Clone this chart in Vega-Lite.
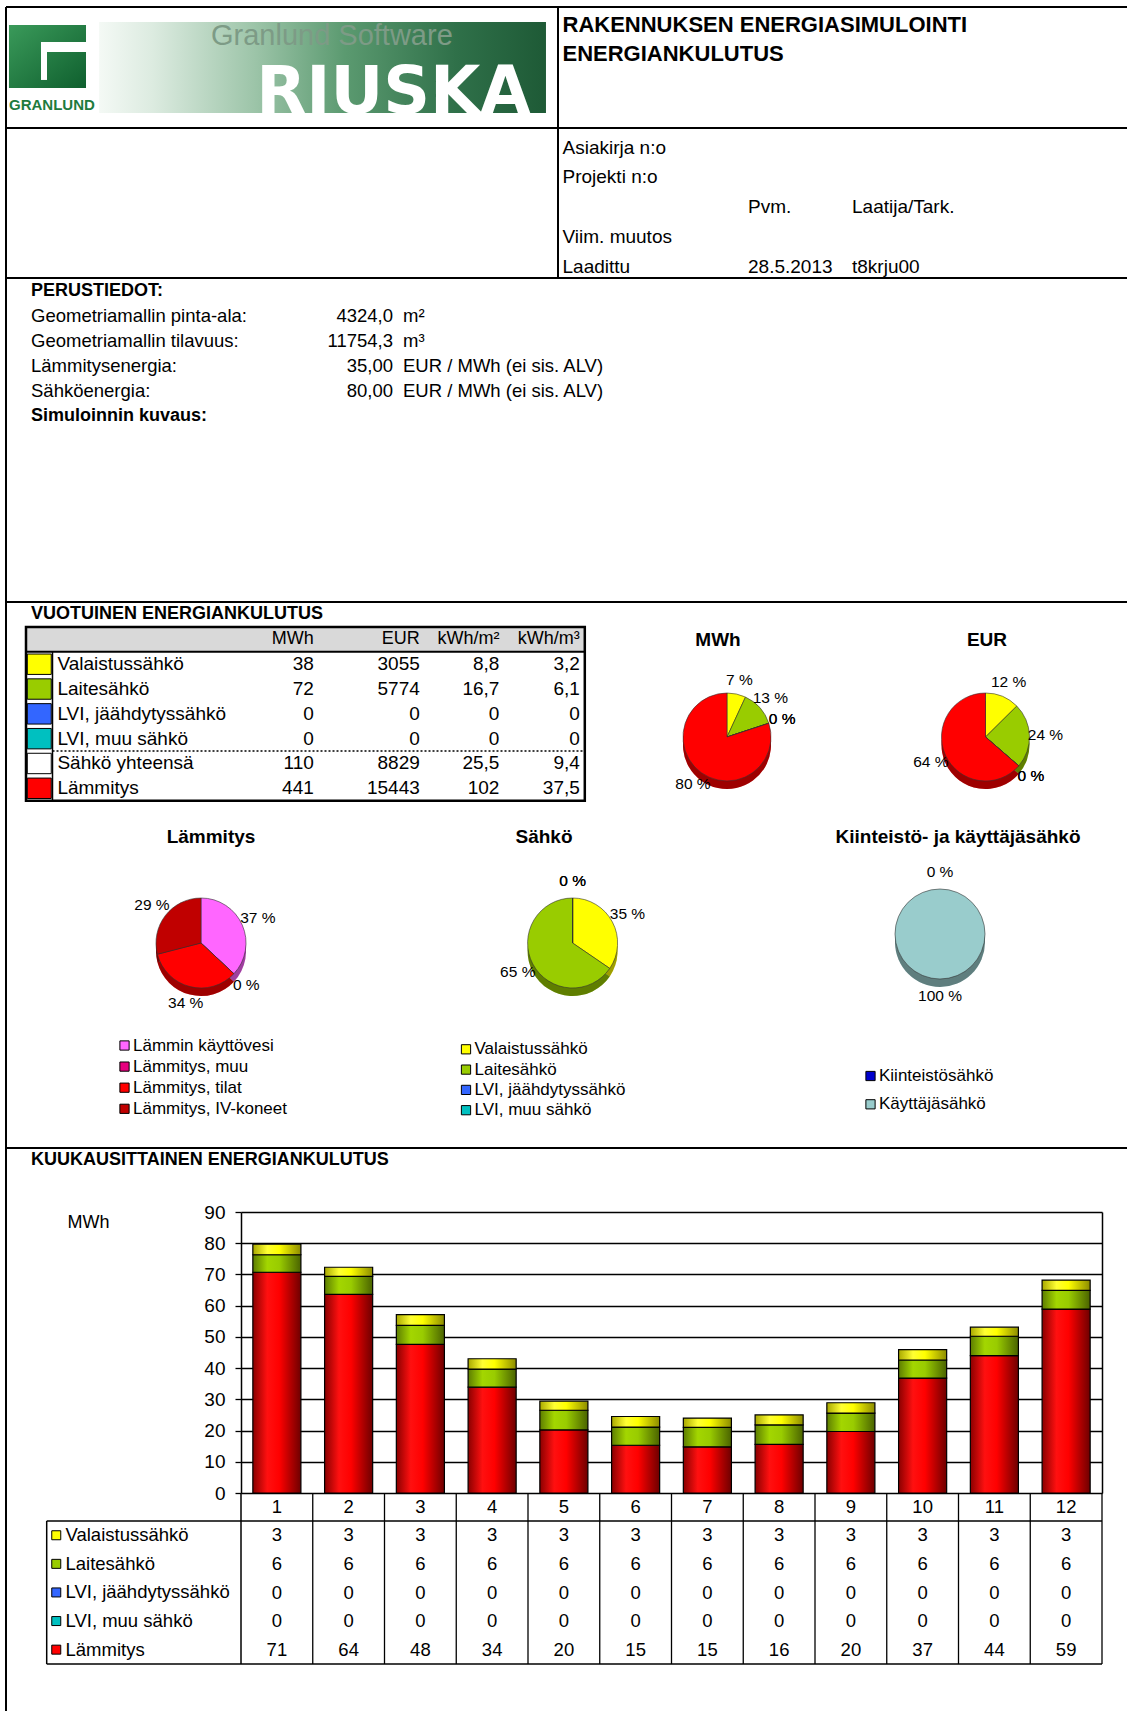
{
 "$schema": "https://vega.github.io/schema/vega-lite/v6.json",
 "width": 1121,
 "height": 1704,
 "padding": {"left": 6, "top": 7, "right": 0, "bottom": 0},
 "autosize": {"type": "none"},
 "background": "#ffffff",
 "config": {
  "view": {"stroke": null},
  "font": "Liberation Sans",
  "text": {"font": "Liberation Sans", "color": "#000000"},
  "axis": {"labelFont": "Liberation Sans", "titleFont": "Liberation Sans"},
  "legend": {"labelFont": "Liberation Sans", "titleFont": "Liberation Sans"},
  "locale": {"number": {"decimal": ",", "thousands": " ", "grouping": [3], "currency": ["", " €"], "percent": " %"}}
 },
 "datasets": {
  "monthly": [
   {"m":1,"s":"Valaistussähkö","o":1,"v":3.4},{"m":1,"s":"Laitesähkö","o":2,"v":5.6},{"m":1,"s":"LVI, jäähdytyssähkö","o":3,"v":0},{"m":1,"s":"LVI, muu sähkö","o":4,"v":0},{"m":1,"s":"Lämmitys","o":5,"v":70.7},
   {"m":2,"s":"Valaistussähkö","o":1,"v":2.9},{"m":2,"s":"Laitesähkö","o":2,"v":5.8},{"m":2,"s":"LVI, jäähdytyssähkö","o":3,"v":0},{"m":2,"s":"LVI, muu sähkö","o":4,"v":0},{"m":2,"s":"Lämmitys","o":5,"v":63.6},
   {"m":3,"s":"Valaistussähkö","o":1,"v":3.4},{"m":3,"s":"Laitesähkö","o":2,"v":6.1},{"m":3,"s":"LVI, jäähdytyssähkö","o":3,"v":0},{"m":3,"s":"LVI, muu sähkö","o":4,"v":0},{"m":3,"s":"Lämmitys","o":5,"v":47.6},
   {"m":4,"s":"Valaistussähkö","o":1,"v":3.3},{"m":4,"s":"Laitesähkö","o":2,"v":5.8},{"m":4,"s":"LVI, jäähdytyssähkö","o":3,"v":0},{"m":4,"s":"LVI, muu sähkö","o":4,"v":0},{"m":4,"s":"Lämmitys","o":5,"v":33.9},
   {"m":5,"s":"Valaistussähkö","o":1,"v":2.9},{"m":5,"s":"Laitesähkö","o":2,"v":6.3},{"m":5,"s":"LVI, jäähdytyssähkö","o":3,"v":0},{"m":5,"s":"LVI, muu sähkö","o":4,"v":0},{"m":5,"s":"Lämmitys","o":5,"v":20.2},
   {"m":6,"s":"Valaistussähkö","o":1,"v":3.4},{"m":6,"s":"Laitesähkö","o":2,"v":5.8},{"m":6,"s":"LVI, jäähdytyssähkö","o":3,"v":0},{"m":6,"s":"LVI, muu sähkö","o":4,"v":0},{"m":6,"s":"Lämmitys","o":5,"v":15.3},
   {"m":7,"s":"Valaistussähkö","o":1,"v":3.0},{"m":7,"s":"Laitesähkö","o":2,"v":6.2},{"m":7,"s":"LVI, jäähdytyssähkö","o":3,"v":0},{"m":7,"s":"LVI, muu sähkö","o":4,"v":0},{"m":7,"s":"Lämmitys","o":5,"v":14.8},
   {"m":8,"s":"Valaistussähkö","o":1,"v":3.2},{"m":8,"s":"Laitesähkö","o":2,"v":6.2},{"m":8,"s":"LVI, jäähdytyssähkö","o":3,"v":0},{"m":8,"s":"LVI, muu sähkö","o":4,"v":0},{"m":8,"s":"Lämmitys","o":5,"v":15.6},
   {"m":9,"s":"Valaistussähkö","o":1,"v":3.3},{"m":9,"s":"Laitesähkö","o":2,"v":5.9},{"m":9,"s":"LVI, jäähdytyssähkö","o":3,"v":0},{"m":9,"s":"LVI, muu sähkö","o":4,"v":0},{"m":9,"s":"Lämmitys","o":5,"v":19.7},
   {"m":10,"s":"Valaistussähkö","o":1,"v":3.3},{"m":10,"s":"Laitesähkö","o":2,"v":5.8},{"m":10,"s":"LVI, jäähdytyssähkö","o":3,"v":0},{"m":10,"s":"LVI, muu sähkö","o":4,"v":0},{"m":10,"s":"Lämmitys","o":5,"v":36.8},
   {"m":11,"s":"Valaistussähkö","o":1,"v":2.9},{"m":11,"s":"Laitesähkö","o":2,"v":6.2},{"m":11,"s":"LVI, jäähdytyssähkö","o":3,"v":0},{"m":11,"s":"LVI, muu sähkö","o":4,"v":0},{"m":11,"s":"Lämmitys","o":5,"v":44.0},
   {"m":12,"s":"Valaistussähkö","o":1,"v":3.3},{"m":12,"s":"Laitesähkö","o":2,"v":6.0},{"m":12,"s":"LVI, jäähdytyssähkö","o":3,"v":0},{"m":12,"s":"LVI, muu sähkö","o":4,"v":0},{"m":12,"s":"Lämmitys","o":5,"v":58.9}
  ]
 },
 "resolve": {
  "scale": {"x": "independent", "y": "independent", "color": "independent", "theta": "independent", "radius": "independent", "opacity": "independent", "size": "independent", "shape": "independent"},
  "axis": {"x": "independent", "y": "independent"},
  "legend": {"color": "independent"}
 },
 "layer": [
  {
   "data": {"values": [{"brand": "Granlund Software RIUSKA"}]},
   "layer": [
    {"mark": {"type": "rect", "fill": {"gradient": "linear", "x1": 0, "y1": 0, "x2": 1, "y2": 0, "stops": [{"offset": 0, "color": "#f4f9f5"}, {"offset": 0.12, "color": "#dcebe0"}, {"offset": 0.35, "color": "#9cc4a8"}, {"offset": 0.55, "color": "#5b9a70"}, {"offset": 0.8, "color": "#2f7049"}, {"offset": 1, "color": "#1e5a36"}]}},
     "encoding": {"x": {"datum": 16.9, "type": "quantitative", "scale": {"domain": [0, 100], "range": [0, 551], "nice": false, "zero": false}, "axis": null}, "x2": {"datum": 98.0}, "y": {"datum": 12.4, "type": "quantitative", "scale": {"domain": [0, 100], "range": [0, 121], "nice": false, "zero": false}, "axis": null}, "y2": {"datum": 87.6}}},
    {"mark": {"type": "rect", "fill": {"gradient": "linear", "x1": 0, "y1": 0, "x2": 1, "y2": 1, "stops": [{"offset": 0, "color": "#3a9a5a"}, {"offset": 1, "color": "#0f5f2e"}]}},
     "encoding": {"x": {"datum": 0.54, "type": "quantitative", "scale": {"domain": [0, 100], "range": [0, 551], "nice": false, "zero": false}, "axis": null}, "x2": {"datum": 14.52}, "y": {"datum": 14.9, "type": "quantitative", "scale": {"domain": [0, 100], "range": [0, 121], "nice": false, "zero": false}, "axis": null}, "y2": {"datum": 66.9}}},
    {"mark": {"type": "rect", "fill": "#ffffff"},
     "encoding": {"x": {"datum": 6.35, "type": "quantitative", "scale": {"domain": [0, 100], "range": [0, 551], "nice": false, "zero": false}, "axis": null}, "x2": {"datum": 14.7}, "y": {"datum": 28.9, "type": "quantitative", "scale": {"domain": [0, 100], "range": [0, 121], "nice": false, "zero": false}, "axis": null}, "y2": {"datum": 37.2}}},
    {"mark": {"type": "rect", "fill": "#ffffff"},
     "encoding": {"x": {"datum": 6.35, "type": "quantitative", "scale": {"domain": [0, 100], "range": [0, 551], "nice": false, "zero": false}, "axis": null}, "x2": {"datum": 7.44}, "y": {"datum": 37.2, "type": "quantitative", "scale": {"domain": [0, 100], "range": [0, 121], "nice": false, "zero": false}, "axis": null}, "y2": {"datum": 60.3}}},
    {"mark": {"type": "text", "align": "left", "baseline": "middle", "fontSize": 15, "fontWeight": "bold", "color": "#1e7b3e"},
     "encoding": {"x": {"datum": 0.54, "type": "quantitative", "scale": {"domain": [0, 100], "range": [0, 551], "nice": false, "zero": false}, "axis": null}, "y": {"datum": 81.0, "type": "quantitative", "scale": {"domain": [0, 100], "range": [0, 121], "nice": false, "zero": false}, "axis": null}, "text": {"value": "GRANLUND"}}},
    {"mark": {"type": "text", "align": "left", "baseline": "alphabetic", "fontSize": 29, "color": "#7d9b86"},
     "encoding": {"x": {"datum": 37.2, "type": "quantitative", "scale": {"domain": [0, 100], "range": [0, 551], "nice": false, "zero": false}, "axis": null}, "y": {"datum": 31.8, "type": "quantitative", "scale": {"domain": [0, 100], "range": [0, 121], "nice": false, "zero": false}, "axis": null}, "text": {"value": "Granlund Software"}}},
    {"mark": {"type": "text", "align": "left", "baseline": "alphabetic", "font": "DejaVu Sans", "fontSize": 65, "fontWeight": "bold", "color": "#ffffff"},
     "encoding": {"x": {"datum": 45.4, "type": "quantitative", "scale": {"domain": [0, 100], "range": [0, 551], "nice": false, "zero": false}, "axis": null}, "y": {"datum": 87.6, "type": "quantitative", "scale": {"domain": [0, 100], "range": [0, 121], "nice": false, "zero": false}, "axis": null}, "text": {"value": "RIUSKA"}}}
   ]
  },
  {
   "data": {"values": [{"edge": 0}, {"edge": 1}, {"edge": 2}, {"edge": 3}, {"edge": 4}]},
   "layer": [
    {"mark": {"type": "rule", "color": "#000000", "strokeWidth": 2},
     "encoding": {"y": {"field": "edge", "type": "quantitative", "scale": {"domain": [0, 1, 2, 3, 4, 5], "range": [0, 121, 271, 595, 1141, 1704], "nice": false, "zero": false}, "axis": null}}},
    {"data": {"values": [{"col": 0}]},
     "mark": {"type": "rule", "color": "#000000", "strokeWidth": 2},
     "encoding": {"x": {"field": "col", "type": "quantitative", "scale": {"domain": [0, 1, 2], "range": [0, 552, 1121], "nice": false, "zero": false}, "axis": null}}},
    {"data": {"values": [{"col": 1, "from": 0, "to": 2}]},
     "mark": {"type": "rule", "color": "#000000", "strokeWidth": 2},
     "encoding": {"x": {"field": "col", "type": "quantitative", "scale": {"domain": [0, 1, 2], "range": [0, 552, 1121], "nice": false, "zero": false}, "axis": null},
                  "y": {"field": "from", "type": "quantitative", "scale": {"domain": [0, 1, 2, 3, 4, 5], "range": [0, 121, 271, 595, 1141, 1704], "nice": false, "zero": false}, "axis": null},
                  "y2": {"field": "to"}}}
   ]
  },
  {
   "data": {"values": [
    {"block": "title", "line": 1, "col": 0, "text": "RAKENNUKSEN ENERGIASIMULOINTI"},
    {"block": "title", "line": 2, "col": 0, "text": "ENERGIANKULUTUS"},
    {"block": "info", "line": 3, "col": 0, "text": "Asiakirja n:o"},
    {"block": "info", "line": 4, "col": 0, "text": "Projekti n:o"},
    {"block": "info", "line": 5, "col": 1, "text": "Pvm."},
    {"block": "info", "line": 5, "col": 2, "text": "Laatija/Tark."},
    {"block": "info", "line": 6, "col": 0, "text": "Viim. muutos"},
    {"block": "info", "line": 7, "col": 0, "text": "Laadittu"},
    {"block": "info", "line": 7, "col": 1, "text": "28.5.2013"},
    {"block": "info", "line": 7, "col": 2, "text": "t8krju00"}
   ]},
   "encoding": {
    "x": {"field": "col", "type": "quantitative", "scale": {"domain": [0, 1, 2], "range": [556.5, 742, 846], "nice": false, "zero": false}, "axis": null},
    "y": {"field": "line", "type": "quantitative", "scale": {"domain": [1, 2, 3, 4, 5, 6, 7], "range": [18, 47, 140.5, 170, 200, 230, 259.5], "nice": false, "zero": false}, "axis": null},
    "text": {"field": "text", "type": "nominal"}
   },
   "layer": [
    {"transform": [{"filter": "datum.block == 'title'"}], "mark": {"type": "text", "align": "left", "baseline": "middle", "fontSize": 22, "fontWeight": "bold"}},
    {"transform": [{"filter": "datum.block == 'info'"}], "mark": {"type": "text", "align": "left", "baseline": "middle", "fontSize": 19}}
   ]
  },
  {
   "data": {"values": [
    {"line": 0, "kind": "head", "label": "PERUSTIEDOT:"},
    {"line": 1, "kind": "entry", "label": "Geometriamallin pinta-ala:", "value": 4324.0, "unit": "m²"},
    {"line": 2, "kind": "entry", "label": "Geometriamallin tilavuus:", "value": 11754.3, "unit": "m³"},
    {"line": 3, "kind": "entry", "label": "Lämmitysenergia:", "value": 35, "unit": "EUR / MWh (ei sis. ALV)"},
    {"line": 4, "kind": "entry", "label": "Sähköenergia:", "value": 80, "unit": "EUR / MWh (ei sis. ALV)"},
    {"line": 5, "kind": "head", "label": "Simuloinnin kuvaus:"},
    {"line": 6, "kind": "head", "label": "VUOTUINEN ENERGIANKULUTUS"},
    {"line": 7, "kind": "head", "label": "KUUKAUSITTAINEN ENERGIANKULUTUS"}
   ]},
   "encoding": {"y": {"field": "line", "type": "quantitative", "scale": {"domain": [0, 5, 6, 7], "range": [284.3, 408.7, 607, 1152.5], "nice": false, "zero": false}, "axis": null}},
   "layer": [
    {"transform": [{"filter": "datum.kind == 'head'"}], "mark": {"type": "text", "align": "left", "fontSize": 18, "fontWeight": "bold"},
     "encoding": {"x": {"datum": 0, "type": "quantitative", "scale": {"domain": [0, 1, 2], "range": [25, 387, 397], "nice": false, "zero": false}, "axis": null}, "text": {"field": "label", "type": "nominal"}}},
    {"transform": [{"filter": "datum.kind == 'entry'"}], "mark": {"type": "text", "align": "left", "fontSize": 18.5},
     "encoding": {"x": {"datum": 0, "type": "quantitative", "scale": {"domain": [0, 1, 2], "range": [25, 387, 397], "nice": false, "zero": false}, "axis": null}, "text": {"field": "label", "type": "nominal"}}},
    {"transform": [{"filter": "datum.kind == 'entry' && datum.line <= 2"}], "mark": {"type": "text", "align": "right", "fontSize": 18.5},
     "encoding": {"x": {"datum": 1, "type": "quantitative", "scale": {"domain": [0, 1, 2], "range": [25, 387, 397], "nice": false, "zero": false}, "axis": null}, "text": {"field": "value", "type": "quantitative", "format": ".1f"}}},
    {"transform": [{"filter": "datum.kind == 'entry' && datum.line >= 3"}], "mark": {"type": "text", "align": "right", "fontSize": 18.5},
     "encoding": {"x": {"datum": 1, "type": "quantitative", "scale": {"domain": [0, 1, 2], "range": [25, 387, 397], "nice": false, "zero": false}, "axis": null}, "text": {"field": "value", "type": "quantitative", "format": ".2f"}}},
    {"transform": [{"filter": "datum.kind == 'entry'"}], "mark": {"type": "text", "align": "left", "fontSize": 18.5},
     "encoding": {"x": {"datum": 2, "type": "quantitative", "scale": {"domain": [0, 1, 2], "range": [25, 387, 397], "nice": false, "zero": false}, "axis": null}, "text": {"field": "unit", "type": "nominal"}}}
   ]
  },
  {
   "data": {"values": [
    {"row": 1, "item": "Valaistussähkö", "mwh": 38, "eur": 3055, "m2": 8.8, "m3": 3.2},
    {"row": 2, "item": "Laitesähkö", "mwh": 72, "eur": 5774, "m2": 16.7, "m3": 6.1},
    {"row": 3, "item": "LVI, jäähdytyssähkö", "mwh": 0, "eur": 0, "m2": 0, "m3": 0},
    {"row": 4, "item": "LVI, muu sähkö", "mwh": 0, "eur": 0, "m2": 0, "m3": 0},
    {"row": 5, "item": "Sähkö yhteensä", "mwh": 110, "eur": 8829, "m2": 25.5, "m3": 9.4},
    {"row": 6, "item": "Lämmitys", "mwh": 441, "eur": 15443, "m2": 102, "m3": 37.5}
   ]},
   "layer": [
    {"data": {"values": [{"part": "header"}]}, "mark": {"type": "rect", "fill": "#D9D9D9"},
     "encoding": {"x": {"datum": 0, "type": "quantitative", "scale": {"domain": [0, 1, 2, 3, 4, 5, 6, 7], "range": [20, 46.5, 51.4, 307.8, 413.8, 493.4, 573.8, 578.8], "nice": false, "zero": false}, "axis": null}, "x2": {"datum": 7},
                  "y": {"datum": -0.5, "type": "quantitative", "scale": {"domain": [-0.5, 6.5], "range": [620, 793.7], "nice": false, "zero": false}, "axis": null}, "y2": {"datum": 0.5}}},
    {"data": {"values": [{"col": 3, "h": "MWh"}, {"col": 4, "h": "EUR"}, {"col": 5, "h": "kWh/m²"}, {"col": 6, "h": "kWh/m³"}]},
     "mark": {"type": "text", "align": "right", "fontSize": 18},
     "encoding": {"x": {"field": "col", "type": "quantitative", "scale": {"domain": [0, 1, 2, 3, 4, 5, 6, 7], "range": [20, 46.5, 51.4, 307.8, 413.8, 493.4, 573.8, 578.8], "nice": false, "zero": false}, "axis": null},
                  "y": {"datum": 0, "type": "quantitative", "scale": {"domain": [-0.5, 6.5], "range": [620, 793.7], "nice": false, "zero": false}, "axis": null},
                  "text": {"field": "h", "type": "nominal"}}},
    {"mark": {"type": "point", "shape": "M-1,-0.85L1,-0.85L1,0.85L-1,0.85Z", "size": 576, "filled": true, "opacity": 1, "stroke": "#000000", "strokeWidth": 1},
     "encoding": {"x": {"datum": 0.5, "type": "quantitative", "scale": {"domain": [0, 1, 2, 3, 4, 5, 6, 7], "range": [20, 46.5, 51.4, 307.8, 413.8, 493.4, 573.8, 578.8], "nice": false, "zero": false}, "axis": null},
                  "y": {"field": "row", "type": "quantitative", "scale": {"domain": [-0.5, 6.5], "range": [620, 793.7], "nice": false, "zero": false}, "axis": null},
                  "color": {"field": "item", "type": "nominal", "scale": {"domain": ["Valaistussähkö", "Laitesähkö", "LVI, jäähdytyssähkö", "LVI, muu sähkö", "Sähkö yhteensä", "Lämmitys"], "range": ["#FFFF00", "#99CC00", "#3366FF", "#00C0C0", "#FFFFFF", "#FF0000"]}, "legend": null}}},
    {"mark": {"type": "text", "align": "left", "fontSize": 19},
     "encoding": {"x": {"datum": 2, "type": "quantitative", "scale": {"domain": [0, 1, 2, 3, 4, 5, 6, 7], "range": [20, 46.5, 51.4, 307.8, 413.8, 493.4, 573.8, 578.8], "nice": false, "zero": false}, "axis": null},
                  "y": {"field": "row", "type": "quantitative", "scale": {"domain": [-0.5, 6.5], "range": [620, 793.7], "nice": false, "zero": false}, "axis": null},
                  "text": {"field": "item", "type": "nominal"}}},
    {"mark": {"type": "text", "align": "right", "fontSize": 19},
     "encoding": {"x": {"datum": 3, "type": "quantitative", "scale": {"domain": [0, 1, 2, 3, 4, 5, 6, 7], "range": [20, 46.5, 51.4, 307.8, 413.8, 493.4, 573.8, 578.8], "nice": false, "zero": false}, "axis": null},
                  "y": {"field": "row", "type": "quantitative", "scale": {"domain": [-0.5, 6.5], "range": [620, 793.7], "nice": false, "zero": false}, "axis": null},
                  "text": {"field": "mwh", "type": "quantitative", "format": ".6~g"}}},
    {"mark": {"type": "text", "align": "right", "fontSize": 19},
     "encoding": {"x": {"datum": 4, "type": "quantitative", "scale": {"domain": [0, 1, 2, 3, 4, 5, 6, 7], "range": [20, 46.5, 51.4, 307.8, 413.8, 493.4, 573.8, 578.8], "nice": false, "zero": false}, "axis": null},
                  "y": {"field": "row", "type": "quantitative", "scale": {"domain": [-0.5, 6.5], "range": [620, 793.7], "nice": false, "zero": false}, "axis": null},
                  "text": {"field": "eur", "type": "quantitative", "format": ".6~g"}}},
    {"mark": {"type": "text", "align": "right", "fontSize": 19},
     "encoding": {"x": {"datum": 5, "type": "quantitative", "scale": {"domain": [0, 1, 2, 3, 4, 5, 6, 7], "range": [20, 46.5, 51.4, 307.8, 413.8, 493.4, 573.8, 578.8], "nice": false, "zero": false}, "axis": null},
                  "y": {"field": "row", "type": "quantitative", "scale": {"domain": [-0.5, 6.5], "range": [620, 793.7], "nice": false, "zero": false}, "axis": null},
                  "text": {"field": "m2", "type": "quantitative", "format": ".6~g"}}},
    {"mark": {"type": "text", "align": "right", "fontSize": 19},
     "encoding": {"x": {"datum": 6, "type": "quantitative", "scale": {"domain": [0, 1, 2, 3, 4, 5, 6, 7], "range": [20, 46.5, 51.4, 307.8, 413.8, 493.4, 573.8, 578.8], "nice": false, "zero": false}, "axis": null},
                  "y": {"field": "row", "type": "quantitative", "scale": {"domain": [-0.5, 6.5], "range": [620, 793.7], "nice": false, "zero": false}, "axis": null},
                  "text": {"field": "m3", "type": "quantitative", "format": ".6~g"}}},
    {"data": {"values": [{"part": "header-line"}]}, "mark": {"type": "rule", "color": "#000000", "strokeWidth": 2},
     "encoding": {"x": {"datum": 0, "type": "quantitative", "scale": {"domain": [0, 1, 2, 3, 4, 5, 6, 7], "range": [20, 46.5, 51.4, 307.8, 413.8, 493.4, 573.8, 578.8], "nice": false, "zero": false}, "axis": null}, "x2": {"datum": 7},
                  "y": {"datum": 0.5, "type": "quantitative", "scale": {"domain": [-0.5, 6.5], "range": [620, 793.7], "nice": false, "zero": false}, "axis": null}}},
    {"data": {"values": [{"part": "total-line"}]}, "mark": {"type": "rule", "color": "#000000", "strokeWidth": 1.5, "strokeDash": [2, 2]},
     "encoding": {"x": {"datum": 1, "type": "quantitative", "scale": {"domain": [0, 1, 2, 3, 4, 5, 6, 7], "range": [20, 46.5, 51.4, 307.8, 413.8, 493.4, 573.8, 578.8], "nice": false, "zero": false}, "axis": null}, "x2": {"datum": 7},
                  "y": {"datum": 4.5, "type": "quantitative", "scale": {"domain": [-0.5, 6.5], "range": [620, 793.7], "nice": false, "zero": false}, "axis": null}}},
    {"data": {"values": [{"part": "swatch-line"}]}, "mark": {"type": "rule", "color": "#000000", "strokeWidth": 1.5},
     "encoding": {"x": {"datum": 1, "type": "quantitative", "scale": {"domain": [0, 1, 2, 3, 4, 5, 6, 7], "range": [20, 46.5, 51.4, 307.8, 413.8, 493.4, 573.8, 578.8], "nice": false, "zero": false}, "axis": null},
                  "y": {"datum": 0.5, "type": "quantitative", "scale": {"domain": [-0.5, 6.5], "range": [620, 793.7], "nice": false, "zero": false}, "axis": null}, "y2": {"datum": 6.5}}},
    {"data": {"values": [{"part": "frame"}]}, "mark": {"type": "rect", "fill": null, "fillOpacity": 0, "stroke": "#000000", "strokeWidth": 2.5},
     "encoding": {"x": {"datum": 0, "type": "quantitative", "scale": {"domain": [0, 1, 2, 3, 4, 5, 6, 7], "range": [20, 46.5, 51.4, 307.8, 413.8, 493.4, 573.8, 578.8], "nice": false, "zero": false}, "axis": null}, "x2": {"datum": 7},
                  "y": {"datum": -0.5, "type": "quantitative", "scale": {"domain": [-0.5, 6.5], "range": [620, 793.7], "nice": false, "zero": false}, "axis": null}, "y2": {"datum": 6.5}}}
   ]
  },
  {
   "data": {"values": [{"slot": 1, "t": "MWh"}, {"slot": 2, "t": "EUR"}, {"slot": 3, "t": "Lämmitys"}, {"slot": 4, "t": "Sähkö"}, {"slot": 5, "t": "Kiinteistö- ja käyttäjäsähkö"}]},
   "mark": {"type": "text", "fontSize": 19, "fontWeight": "bold"},
   "encoding": {
    "x": {"field": "slot", "type": "quantitative", "scale": {"domain": [1, 2, 3, 4, 5], "range": [712, 981, 205, 538, 952], "nice": false, "zero": false}, "axis": null},
    "y": {"field": "slot", "type": "quantitative", "scale": {"domain": [1, 2, 3, 4, 5], "range": [633, 633, 830, 830, 830], "nice": false, "zero": false}, "axis": null},
    "text": {"field": "t", "type": "nominal"}
   }
  },
  {
   "data": {"values": [
    {"chart": "MWh", "item": "Valaistussähkö", "o": 1, "v": 38, "pct": 0.07},
    {"chart": "MWh", "item": "Laitesähkö", "o": 2, "v": 72, "pct": 0.13},
    {"chart": "MWh", "item": "LVI, jäähdytyssähkö", "o": 3, "v": 0, "pct": 0},
    {"chart": "MWh", "item": "LVI, muu sähkö", "o": 4, "v": 0, "pct": 0},
    {"chart": "MWh", "item": "Lämmitys", "o": 5, "v": 441, "pct": 0.80}
   ]},
   "encoding": {
    "x": {"field": "chart", "type": "nominal", "scale": {"type": "point", "domain": ["MWh"], "range": [721, 721]}, "axis": null},
    "y": {"field": "chart", "type": "nominal", "scale": {"type": "point", "domain": ["MWh"], "range": [730, 730]}, "axis": null},
    "theta": {"field": "v", "type": "quantitative", "stack": true},
    "order": {"field": "o", "type": "quantitative"}
   },
   "layer": [
    {"mark": {"type": "arc", "outerRadius": 44, "yOffset": 8}, "encoding": {"color": {"field": "item", "type": "nominal", "scale": {"domain": ["Valaistussähkö", "Laitesähkö", "LVI, jäähdytyssähkö", "LVI, muu sähkö", "Lämmitys"], "range": ["#FFFF00", "#99CC00", "#3366FF", "#00C0C0", "#FF0000"]}, "legend": null}}},
    {"mark": {"type": "arc", "outerRadius": 44, "yOffset": 8, "color": "#000000", "opacity": 0.38}},
    {"mark": {"type": "arc", "outerRadius": 44, "stroke": "#333333", "strokeWidth": 0.6}, "encoding": {"color": {"field": "item", "type": "nominal", "scale": {"domain": ["Valaistussähkö", "Laitesähkö", "LVI, jäähdytyssähkö", "LVI, muu sähkö", "Lämmitys"], "range": ["#FFFF00", "#99CC00", "#3366FF", "#00C0C0", "#FF0000"]}, "legend": null}}},
    {"mark": {"type": "text", "radius": 58, "fontSize": 15.5}, "encoding": {"text": {"field": "pct", "type": "quantitative", "format": ".0%"}}}
   ]
  },
  {
   "data": {"values": [
    {"chart": "EUR", "item": "Valaistussähkö", "o": 1, "v": 3055, "pct": 0.12},
    {"chart": "EUR", "item": "Laitesähkö", "o": 2, "v": 5774, "pct": 0.24},
    {"chart": "EUR", "item": "LVI, jäähdytyssähkö", "o": 3, "v": 0, "pct": 0},
    {"chart": "EUR", "item": "LVI, muu sähkö", "o": 4, "v": 0, "pct": 0},
    {"chart": "EUR", "item": "Lämmitys", "o": 5, "v": 15443, "pct": 0.64}
   ]},
   "encoding": {
    "x": {"field": "chart", "type": "nominal", "scale": {"type": "point", "domain": ["EUR"], "range": [979.5, 979.5]}, "axis": null},
    "y": {"field": "chart", "type": "nominal", "scale": {"type": "point", "domain": ["EUR"], "range": [730, 730]}, "axis": null},
    "theta": {"field": "v", "type": "quantitative", "stack": true},
    "order": {"field": "o", "type": "quantitative"}
   },
   "layer": [
    {"mark": {"type": "arc", "outerRadius": 44, "yOffset": 8}, "encoding": {"color": {"field": "item", "type": "nominal", "scale": {"domain": ["Valaistussähkö", "Laitesähkö", "LVI, jäähdytyssähkö", "LVI, muu sähkö", "Lämmitys"], "range": ["#FFFF00", "#99CC00", "#3366FF", "#00C0C0", "#FF0000"]}, "legend": null}}},
    {"mark": {"type": "arc", "outerRadius": 44, "yOffset": 8, "color": "#000000", "opacity": 0.38}},
    {"mark": {"type": "arc", "outerRadius": 44, "stroke": "#333333", "strokeWidth": 0.6}, "encoding": {"color": {"field": "item", "type": "nominal", "scale": {"domain": ["Valaistussähkö", "Laitesähkö", "LVI, jäähdytyssähkö", "LVI, muu sähkö", "Lämmitys"], "range": ["#FFFF00", "#99CC00", "#3366FF", "#00C0C0", "#FF0000"]}, "legend": null}}},
    {"mark": {"type": "text", "radius": 60, "fontSize": 15.5}, "encoding": {"text": {"field": "pct", "type": "quantitative", "format": ".0%"}}}
   ]
  },
  {
   "data": {"values": [
    {"chart": "Lämmitys", "item": "Lämmin käyttövesi", "o": 1, "v": 163, "pct": 0.37},
    {"chart": "Lämmitys", "item": "Lämmitys, muu", "o": 2, "v": 0, "pct": 0},
    {"chart": "Lämmitys", "item": "Lämmitys, tilat", "o": 3, "v": 150, "pct": 0.34},
    {"chart": "Lämmitys", "item": "Lämmitys, IV-koneet", "o": 4, "v": 128, "pct": 0.29}
   ]},
   "encoding": {
    "x": {"field": "chart", "type": "nominal", "scale": {"type": "point", "domain": ["Lämmitys"], "range": [195, 195]}, "axis": null},
    "y": {"field": "chart", "type": "nominal", "scale": {"type": "point", "domain": ["Lämmitys"], "range": [936, 936]}, "axis": null},
    "theta": {"field": "v", "type": "quantitative", "stack": true},
    "order": {"field": "o", "type": "quantitative"}
   },
   "layer": [
    {"mark": {"type": "arc", "outerRadius": 45, "yOffset": 8}, "encoding": {"color": {"field": "item", "type": "nominal", "scale": {"domain": ["Lämmin käyttövesi", "Lämmitys, muu", "Lämmitys, tilat", "Lämmitys, IV-koneet"], "range": ["#FF66FF", "#E6007E", "#FF0000", "#C00000"]},
      "legend": {"orient": "none", "legendX": 110, "legendY": 1030, "direction": "vertical", "title": null, "symbolType": "square", "symbolSize": 85, "labelFontSize": 17, "labelColor": "#000000", "labelOffset": 0, "rowPadding": 3.1, "padding": 0, "labelLimit": 0, "encode": {"symbols": {"update": {"stroke": {"value": "#000000"}, "strokeWidth": {"value": 1}, "opacity": {"value": 1}}}}}}}},
    {"mark": {"type": "arc", "outerRadius": 45, "yOffset": 8, "color": "#000000", "opacity": 0.38}},
    {"mark": {"type": "arc", "outerRadius": 45, "stroke": "#333333", "strokeWidth": 0.6}, "encoding": {"color": {"field": "item", "type": "nominal", "scale": {"domain": ["Lämmin käyttövesi", "Lämmitys, muu", "Lämmitys, tilat", "Lämmitys, IV-koneet"], "range": ["#FF66FF", "#E6007E", "#FF0000", "#C00000"]},
      "legend": {"orient": "none", "legendX": 110, "legendY": 1030, "direction": "vertical", "title": null, "symbolType": "square", "symbolSize": 85, "labelFontSize": 17, "labelColor": "#000000", "labelOffset": 0, "rowPadding": 3.1, "padding": 0, "labelLimit": 0, "encode": {"symbols": {"update": {"stroke": {"value": "#000000"}, "strokeWidth": {"value": 1}, "opacity": {"value": 1}}}}}}}},
    {"mark": {"type": "text", "radius": 62, "fontSize": 15.5}, "encoding": {"text": {"field": "pct", "type": "quantitative", "format": ".0%"}}}
   ]
  },
  {
   "data": {"values": [
    {"chart": "Sähkö", "item": "Valaistussähkö", "o": 1, "v": 38, "pct": 0.35},
    {"chart": "Sähkö", "item": "Laitesähkö", "o": 2, "v": 72, "pct": 0.65},
    {"chart": "Sähkö", "item": "LVI, jäähdytyssähkö", "o": 3, "v": 0, "pct": 0},
    {"chart": "Sähkö", "item": "LVI, muu sähkö", "o": 4, "v": 0, "pct": 0}
   ]},
   "encoding": {
    "x": {"field": "chart", "type": "nominal", "scale": {"type": "point", "domain": ["Sähkö"], "range": [566.6, 566.6]}, "axis": null},
    "y": {"field": "chart", "type": "nominal", "scale": {"type": "point", "domain": ["Sähkö"], "range": [936, 936]}, "axis": null},
    "theta": {"field": "v", "type": "quantitative", "stack": true},
    "order": {"field": "o", "type": "quantitative"}
   },
   "layer": [
    {"mark": {"type": "arc", "outerRadius": 45, "yOffset": 8}, "encoding": {"color": {"field": "item", "type": "nominal", "scale": {"domain": ["Valaistussähkö", "Laitesähkö", "LVI, jäähdytyssähkö", "LVI, muu sähkö"], "range": ["#FFFF00", "#99CC00", "#3366FF", "#00C0C0"]},
      "legend": {"orient": "none", "legendX": 451.5, "legendY": 1033.8, "direction": "vertical", "title": null, "symbolType": "square", "symbolSize": 85, "labelFontSize": 17, "labelColor": "#000000", "labelOffset": 0, "rowPadding": 2.3, "padding": 0, "labelLimit": 0, "encode": {"symbols": {"update": {"stroke": {"value": "#000000"}, "strokeWidth": {"value": 1}, "opacity": {"value": 1}}}}}}}},
    {"mark": {"type": "arc", "outerRadius": 45, "yOffset": 8, "color": "#000000", "opacity": 0.38}},
    {"mark": {"type": "arc", "outerRadius": 45, "stroke": "#333333", "strokeWidth": 0.6}, "encoding": {"color": {"field": "item", "type": "nominal", "scale": {"domain": ["Valaistussähkö", "Laitesähkö", "LVI, jäähdytyssähkö", "LVI, muu sähkö"], "range": ["#FFFF00", "#99CC00", "#3366FF", "#00C0C0"]},
      "legend": {"orient": "none", "legendX": 451.5, "legendY": 1033.8, "direction": "vertical", "title": null, "symbolType": "square", "symbolSize": 85, "labelFontSize": 17, "labelColor": "#000000", "labelOffset": 0, "rowPadding": 2.3, "padding": 0, "labelLimit": 0, "encode": {"symbols": {"update": {"stroke": {"value": "#000000"}, "strokeWidth": {"value": 1}, "opacity": {"value": 1}}}}}}}},
    {"mark": {"type": "text", "radius": 62, "fontSize": 15.5}, "encoding": {"text": {"field": "pct", "type": "quantitative", "format": ".0%"}}}
   ]
  },
  {
   "data": {"values": [
    {"chart": "Kiinteistö", "item": "Kiinteistösähkö", "o": 1, "v": 0, "pct": 0},
    {"chart": "Kiinteistö", "item": "Käyttäjäsähkö", "o": 2, "v": 110, "pct": 1.0}
   ]},
   "encoding": {
    "x": {"field": "chart", "type": "nominal", "scale": {"type": "point", "domain": ["Kiinteistö"], "range": [934, 934]}, "axis": null},
    "y": {"field": "chart", "type": "nominal", "scale": {"type": "point", "domain": ["Kiinteistö"], "range": [927, 927]}, "axis": null},
    "theta": {"field": "v", "type": "quantitative", "stack": true},
    "order": {"field": "o", "type": "quantitative"}
   },
   "layer": [
    {"mark": {"type": "arc", "outerRadius": 45, "yOffset": 8}, "encoding": {"color": {"field": "item", "type": "nominal", "scale": {"domain": ["Kiinteistösähkö", "Käyttäjäsähkö"], "range": ["#0000CC", "#99CCCC"]},
      "legend": {"orient": "none", "legendX": 856, "legendY": 1060.5, "direction": "vertical", "title": null, "symbolType": "square", "symbolSize": 85, "labelFontSize": 17, "labelColor": "#000000", "labelOffset": 0, "rowPadding": 10.3, "padding": 0, "labelLimit": 0, "encode": {"symbols": {"update": {"stroke": {"value": "#000000"}, "strokeWidth": {"value": 1}, "opacity": {"value": 1}}}}}}}},
    {"mark": {"type": "arc", "outerRadius": 45, "yOffset": 8, "color": "#000000", "opacity": 0.38}},
    {"mark": {"type": "arc", "outerRadius": 45, "stroke": "#333333", "strokeWidth": 0.6}, "encoding": {"color": {"field": "item", "type": "nominal", "scale": {"domain": ["Kiinteistösähkö", "Käyttäjäsähkö"], "range": ["#0000CC", "#99CCCC"]},
      "legend": {"orient": "none", "legendX": 856, "legendY": 1060.5, "direction": "vertical", "title": null, "symbolType": "square", "symbolSize": 85, "labelFontSize": 17, "labelColor": "#000000", "labelOffset": 0, "rowPadding": 10.3, "padding": 0, "labelLimit": 0, "encode": {"symbols": {"update": {"stroke": {"value": "#000000"}, "strokeWidth": {"value": 1}, "opacity": {"value": 1}}}}}}}},
    {"mark": {"type": "text", "radius": 62, "fontSize": 15.5}, "encoding": {"text": {"field": "pct", "type": "quantitative", "format": ".0%"}}}
   ]
  },
  {
   "data": {"name": "monthly"},
   "transform": [{"stack": "v", "groupby": ["m"], "sort": [{"field": "o", "order": "descending"}], "as": ["y0", "y1"]}],
   "resolve": {"axis": {"y": "independent"}},
   "layer": [
    {"transform": [{"filter": "datum.o == 5"}],
     "mark": {"type": "bar", "fill": {"gradient": "linear", "x1": 0, "y1": 0, "x2": 1, "y2": 0, "stops": [{"offset": 0, "color": "#8a0000"}, {"offset": 0.3, "color": "#ff1010"}, {"offset": 0.55, "color": "#ff0000"}, {"offset": 1, "color": "#6e0000"}]}, "stroke": "#000000", "strokeWidth": 1.2},
     "encoding": {
      "x": {"field": "m", "type": "ordinal", "scale": {"type": "band", "domain": [1, 2, 3, 4, 5, 6, 7, 8, 9, 10, 11, 12], "range": [235, 1096], "paddingInner": 0.33, "paddingOuter": 0.165}, "axis": null},
      "y": {"field": "y0", "type": "quantitative", "scale": {"domain": [0, 90], "range": [1486, 1205], "nice": false, "zero": false},
            "axis": {"orient": "left", "offset": -235, "values": [0, 10, 20, 30, 40, 50, 60, 70, 80, 90], "grid": true, "gridColor": "#000000", "gridWidth": 1.3, "gridOpacity": 1, "domain": true, "domainColor": "#000000", "domainWidth": 1.5, "ticks": true, "tickColor": "#000000", "tickSize": 6, "tickWidth": 1.3, "labelFontSize": 19, "labelColor": "#000000", "labelPadding": 10, "labelFlush": false, "labelOverlap": false, "title": "MWh", "titleAngle": 0, "titleAlign": "left", "titleBaseline": "middle", "titleX": -174, "titleY": 1215, "titleFontSize": 18, "titleFontWeight": "normal", "titleColor": "#000000"}},
      "y2": {"field": "y1"}
     }},
    {"transform": [{"filter": "datum.o == 2"}],
     "mark": {"type": "bar", "fill": {"gradient": "linear", "x1": 0, "y1": 0, "x2": 1, "y2": 0, "stops": [{"offset": 0, "color": "#5d7d00"}, {"offset": 0.3, "color": "#a3d600"}, {"offset": 0.55, "color": "#99cc00"}, {"offset": 1, "color": "#4a6300"}]}, "stroke": "#000000", "strokeWidth": 1.2},
     "encoding": {
      "x": {"field": "m", "type": "ordinal", "scale": {"type": "band", "domain": [1, 2, 3, 4, 5, 6, 7, 8, 9, 10, 11, 12], "range": [235, 1096], "paddingInner": 0.33, "paddingOuter": 0.165}, "axis": null},
      "y": {"field": "y0", "type": "quantitative", "scale": {"domain": [0, 90], "range": [1486, 1205], "nice": false, "zero": false}, "axis": null},
      "y2": {"field": "y1"}
     }},
    {"transform": [{"filter": "datum.o == 1"}],
     "mark": {"type": "bar", "fill": {"gradient": "linear", "x1": 0, "y1": 0, "x2": 1, "y2": 0, "stops": [{"offset": 0, "color": "#a8a800"}, {"offset": 0.3, "color": "#ffff33"}, {"offset": 0.55, "color": "#ffff00"}, {"offset": 1, "color": "#8c8c00"}]}, "stroke": "#000000", "strokeWidth": 1.2},
     "encoding": {
      "x": {"field": "m", "type": "ordinal", "scale": {"type": "band", "domain": [1, 2, 3, 4, 5, 6, 7, 8, 9, 10, 11, 12], "range": [235, 1096], "paddingInner": 0.33, "paddingOuter": 0.165}, "axis": null},
      "y": {"field": "y0", "type": "quantitative", "scale": {"domain": [0, 90], "range": [1486, 1205], "nice": false, "zero": false},
            "axis": {"orient": "right", "offset": -25, "grid": false, "ticks": false, "labels": false, "domain": true, "domainColor": "#000000", "domainWidth": 1.5, "title": null}},
      "y2": {"field": "y1"}
     }}
   ]
  },
  {
   "data": {"name": "monthly"},
   "layer": [
    {"transform": [{"filter": "datum.o == 1"}],
     "mark": {"type": "text", "fontSize": 18.5},
     "encoding": {
      "x": {"field": "m", "type": "ordinal", "scale": {"type": "band", "domain": [1, 2, 3, 4, 5, 6, 7, 8, 9, 10, 11, 12], "range": [235, 1096], "paddingInner": 0.33, "paddingOuter": 0.165}, "axis": null},
      "y": {"datum": 0, "type": "quantitative", "scale": {"domain": [-0.5, 0.5, 5.5], "range": [1486, 1514, 1657], "nice": false, "zero": false}, "axis": null},
      "text": {"field": "m", "type": "ordinal"}
     }},
    {"mark": {"type": "text", "fontSize": 18.5},
     "encoding": {
      "x": {"field": "m", "type": "ordinal", "scale": {"type": "band", "domain": [1, 2, 3, 4, 5, 6, 7, 8, 9, 10, 11, 12], "range": [235, 1096], "paddingInner": 0.33, "paddingOuter": 0.165}, "axis": null},
      "y": {"field": "o", "type": "quantitative", "scale": {"domain": [-0.5, 0.5, 5.5], "range": [1486, 1514, 1657], "nice": false, "zero": false}, "axis": null},
      "text": {"field": "v", "type": "quantitative", "format": ".0f"}
     }}
   ]
  },
  {
   "data": {"values": [{"tbl": "monthly"}]},
   "layer": [
    {"data": {"name": "monthly"}, "transform": [{"filter": "datum.o == 1"}],
     "mark": {"type": "rule", "color": "#000000", "strokeWidth": 1.3},
     "encoding": {
      "x": {"field": "m", "type": "quantitative", "scale": {"domain": [-1, 0, 12], "range": [40.7, 235, 1096], "nice": false, "zero": false}, "axis": null},
      "y": {"datum": -0.5, "type": "quantitative", "scale": {"domain": [-0.5, 0.5, 5.5], "range": [1486, 1514, 1657], "nice": false, "zero": false}, "axis": null},
      "y2": {"datum": 5.5}
     }},
    {"mark": {"type": "rule", "color": "#000000", "strokeWidth": 1.5},
     "encoding": {
      "x": {"datum": 0, "type": "quantitative", "scale": {"domain": [-1, 0, 12], "range": [40.7, 235, 1096], "nice": false, "zero": false}, "axis": null},
      "y": {"datum": -0.5, "type": "quantitative", "scale": {"domain": [-0.5, 0.5, 5.5], "range": [1486, 1514, 1657], "nice": false, "zero": false}, "axis": null},
      "y2": {"datum": 5.5}
     }},
    {"mark": {"type": "rule", "color": "#000000", "strokeWidth": 1.5},
     "encoding": {
      "x": {"datum": -1, "type": "quantitative", "scale": {"domain": [-1, 0, 12], "range": [40.7, 235, 1096], "nice": false, "zero": false}, "axis": null},
      "x2": {"datum": 12},
      "y": {"datum": 0.5, "type": "quantitative", "scale": {"domain": [-0.5, 0.5, 5.5], "range": [1486, 1514, 1657], "nice": false, "zero": false}, "axis": null}
     }},
    {"mark": {"type": "rule", "color": "#000000", "strokeWidth": 1.5},
     "encoding": {
      "x": {"datum": -1, "type": "quantitative", "scale": {"domain": [-1, 0, 12], "range": [40.7, 235, 1096], "nice": false, "zero": false}, "axis": null},
      "x2": {"datum": 12},
      "y": {"datum": 5.5, "type": "quantitative", "scale": {"domain": [-0.5, 0.5, 5.5], "range": [1486, 1514, 1657], "nice": false, "zero": false}, "axis": null}
     }},
    {"mark": {"type": "rule", "color": "#000000", "strokeWidth": 1.5},
     "encoding": {
      "x": {"datum": -1, "type": "quantitative", "scale": {"domain": [-1, 0, 12], "range": [40.7, 235, 1096], "nice": false, "zero": false}, "axis": null},
      "y": {"datum": 0.5, "type": "quantitative", "scale": {"domain": [-0.5, 0.5, 5.5], "range": [1486, 1514, 1657], "nice": false, "zero": false}, "axis": null},
      "y2": {"datum": 5.5}
     }}
   ]
  },
  {
   "data": {"name": "monthly"},
   "mark": {"type": "square", "size": 1, "opacity": 0},
   "encoding": {
    "color": {"field": "s", "type": "nominal", "scale": {"domain": ["Valaistussähkö", "Laitesähkö", "LVI, jäähdytyssähkö", "LVI, muu sähkö", "Lämmitys"], "range": ["#FFFF00", "#99CC00", "#3366FF", "#00C0C0", "#FF0000"]},
     "legend": {"orient": "none", "legendX": 41, "legendY": 1519, "direction": "vertical", "title": null, "symbolType": "square", "symbolSize": 81, "symbolOpacity": 1, "labelFontSize": 18.5, "labelColor": "#000000", "labelOffset": 0, "rowPadding": 9.6, "padding": 0, "labelLimit": 0, "encode": {"symbols": {"update": {"stroke": {"value": "#000000"}, "strokeWidth": {"value": 1}, "opacity": {"value": 1}}}}}}
   }
  }
 ]
}
